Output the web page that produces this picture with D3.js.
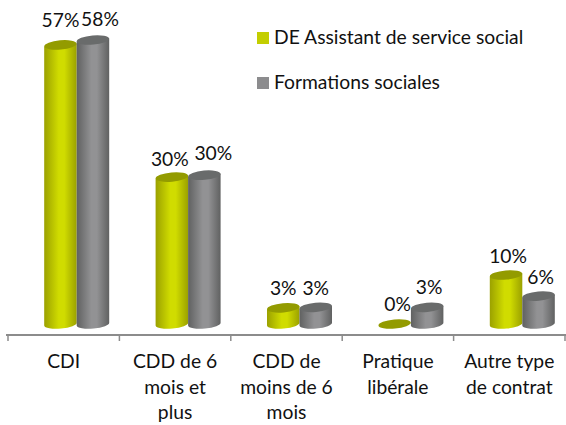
<!DOCTYPE html>
<html>
<head>
<meta charset="utf-8">
<script src="https://cdn.jsdelivr.net/npm/d3@7"></script>
<style>
  html, body { margin: 0; padding: 0; background: #fff; }
  text { font-family: Lato, "Open Sans", sans-serif; fill: #111; }
</style>
</head>
<body>
<svg id="chart" width="566" height="425"></svg>
<script>
const categories = ["CDI", "CDD de 6 mois et plus", "CDD de moins de 6 mois", "Pratique libérale", "Autre type de contrat"];
const categoryLines = [["CDI"], ["CDD de 6", "mois et", "plus"], ["CDD de", "moins de 6", "mois"], ["Pratique", "libérale"], ["Autre type", "de contrat"]];
const seriesNames = ["DE Assistant de service social", "Formations sociales"];
const assistantValues = [57, 30, 3.3, 0, 10];
const formationValues = [58, 30.4, 3.4, 3.4, 5.7];

const width = 566, height = 425;
const axisY = 335, baseY = 324;
const fontSize = 19.3;
const svg = d3.select("#chart");

const xScale = d3.scaleBand().domain(categories).range([8, 565]);
const seriesScale = d3.scaleBand().domain(seriesNames).range([0, 65]);
const yScale = d3.scaleLinear().domain([0, 58]).range([baseY, 40]);

const colors = [
  {edge: "#9ba100", mid: "#d0dc00", top: "#939b00", key: "#c3ce00"},
  {edge: "#606161", mid: "#929294", top: "#696b6b", key: "#8c8c8e"},
];

// the cylinders sit a bit right of the band centre, like the 3D chart they come from
const groupShift = 13;

function AddGradients(defs) {
  colors.forEach((c, i) => {
    const g = defs.append("linearGradient").attr("id", "cyl" + i);
    g.append("stop").attr("offset", "0%").attr("stop-color", c.edge);
    g.append("stop").attr("offset", "45%").attr("stop-color", c.mid);
    g.append("stop").attr("offset", "62%").attr("stop-color", c.mid);
    g.append("stop").attr("offset", "100%").attr("stop-color", c.edge);
  });
}

function AddCylinder(parent, cx, topY, rx, i) {
  const ry = 4.6, tilt = 1.5;
  if (baseY - topY > 1) {
    const path = `M${cx - rx},${topY + tilt} L${cx - rx},${baseY + tilt}
      A${rx},${ry} -5 0 0 ${cx + rx},${baseY - tilt}
      L${cx + rx},${topY - tilt} Z`;
    parent.append("path").attr("d", path).attr("fill", `url(#cyl${i})`);
  }
  parent.append("ellipse")
    .attr("cx", cx).attr("cy", topY)
    .attr("rx", rx).attr("ry", ry)
    .attr("transform", `rotate(-5 ${cx} ${topY})`)
    .attr("fill", colors[i].top);
}

function barCenter(i, j) {
  const left = xScale(categories[j]) + xScale.bandwidth() / 2 + groupShift - 32.5;
  return left + seriesScale(seriesNames[i]) + seriesScale.bandwidth() / 2;
}

AddGradients(svg.append("defs"));

// axis
const axisTicks = d3.range(categories.length + 1).map(i => xScale.range()[0] + i * xScale.step());
svg.append("line").attr("x1", 6).attr("x2", width).attr("y1", axisY).attr("y2", axisY)
  .attr("stroke", "#8c8c8c").attr("stroke-width", 2);
svg.selectAll(".tick-mark").data(axisTicks).join("line")
  .attr("class", "tick-mark")
  .attr("x1", d => d).attr("x2", d => d)
  .attr("y1", axisY).attr("y2", axisY + 6)
  .attr("stroke", "#8c8c8c").attr("stroke-width", 1.5);

// bars
[assistantValues, formationValues].forEach((values, i) => {
  const g = svg.append("g");
  values.forEach((v, j) => {
    AddCylinder(g, barCenter(i, j), yScale(v), seriesScale.bandwidth() / 2, i);
  });
});

// value labels, nudged by hand one by one because the original ones are placed loosely
const labelNudge = [
  [[0, -18], [-2, -11], [0, -13], [3, -13], [2, -12]],
  [[7, -14], [9, -15], [0, -12], [2, -13], [2, -12]],
];
[assistantValues, formationValues].forEach((values, i) => {
  values.forEach((v, j) => {
    svg.append("text")
      .attr("x", barCenter(i, j) + labelNudge[i][j][0])
      .attr("y", yScale(v) + labelNudge[i][j][1])
      .attr("text-anchor", "middle")
      .attr("font-size", fontSize)
      .text(Math.round(v) + "%");
  });
});

// category labels
categories.forEach((c, j) => {
  const t = svg.append("text")
    .attr("text-anchor", "middle")
    .attr("font-size", fontSize);
  categoryLines[j].forEach((line, k) => {
    t.append("tspan")
      .attr("x", xScale(c) + xScale.bandwidth() / 2)
      .attr("y", 368 + k * 25.5)
      .text(line);
  });
});

// legend
const legendY = d3.scalePoint().domain(seriesNames).range([36, 81]);
seriesNames.forEach((name, i) => {
  svg.append("rect")
    .attr("x", 257).attr("y", legendY(name) - 4)
    .attr("width", 12).attr("height", 12)
    .attr("fill", colors[i].key);
  svg.append("text")
    .attr("x", 274).attr("y", legendY(name) + 8)
    .attr("font-size", fontSize)
    .text(name);
});
</script>
</body>
</html>
